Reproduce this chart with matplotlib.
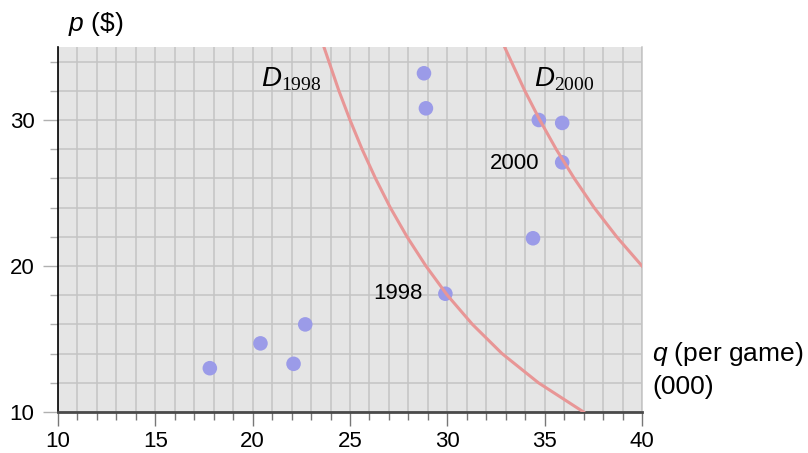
import numpy as np
import matplotlib.pyplot as plt
from matplotlib.ticker import MultipleLocator

plt.rcParams['font.family'] = ['Liberation Sans', 'DejaVu Sans']
plt.rcParams['mathtext.fontset'] = 'custom'
plt.rcParams['mathtext.it'] = 'Liberation Sans:italic'
plt.rcParams['mathtext.rm'] = 'Liberation Serif'

# observed (quantity, price) pairs
q_obs = [17.8, 20.4, 22.1, 22.7, 29.9, 28.8, 28.9, 34.7, 35.9, 35.9, 34.4]
p_obs = [13.0, 14.7, 13.3, 16.0, 18.1, 33.2, 30.8, 30.0, 29.8, 27.1, 21.9]

# demand curves
p_1998 = [35, 32, 30, 28, 26, 24, 22, 20, 18, 16, 14, 12, 10]
q_1998 = [23.66, 24.43, 25.0, 25.62, 26.31, 27.07, 27.93, 28.90, 30.0, 31.29, 32.81, 34.68, 37.0]
p_2000 = [35, 32, 30, 28, 26, 24, 22, 20]
q_2000 = [32.94, 33.98, 34.75, 35.59, 36.52, 37.54, 38.70, 40.0]

fig = plt.figure(figsize=(8.08, 4.53), dpi=100)
ax = fig.add_axes([58/808, 41/453, 584/808, 365/453])
ax.set_facecolor('#e5e5e5')

ax.set_xlim(10, 40)
ax.set_ylim(10, 35)
ax.xaxis.set_major_locator(MultipleLocator(5))
ax.xaxis.set_minor_locator(MultipleLocator(1))
ax.yaxis.set_major_locator(MultipleLocator(10))
ax.yaxis.set_minor_locator(MultipleLocator(2))
ax.grid(which='both', color='#c4c4c4', linewidth=1.1)
ax.set_axisbelow(True)

ax.spines['top'].set_visible(False)
ax.spines['right'].set_color('#c4c4c4')
ax.spines['right'].set_linewidth(1.1)
ax.spines['left'].set_color('black')
ax.spines['left'].set_linewidth(1.2)
ax.spines['bottom'].set_color('#4a4a4a')
ax.spines['bottom'].set_linewidth(2)

ax.tick_params(axis='x', which='major', length=10, width=1, color='#777777', labelsize=16, pad=4)
ax.tick_params(axis='x', which='minor', length=6, width=1, color='#777777')
ax.tick_params(axis='y', which='major', length=11, width=1, color='#b0b0b0', labelsize=16, pad=6)
ax.tick_params(axis='y', which='minor', length=6, width=1, color='#b0b0b0')

ax.scatter(q_obs, p_obs, s=110, color='#9b9be8', edgecolors='none', zorder=3)
ax.plot(q_1998, p_1998, color='#e89696', linewidth=2.2, zorder=4)
ax.plot(q_2000, p_2000, color='#e89696', linewidth=2.2, zorder=4)

ax.text(20.45, 32.3, r'$D_{1998}$', fontsize=20)
ax.text(34.45, 32.3, r'$D_{2000}$', fontsize=20)
ax.text(28.75, 18.1, '1998', fontsize=16, ha='right', va='center')
ax.text(34.75, 27.05, '2000', fontsize=16, ha='right', va='center')

fig.text(68/808, 1 - 24/453, r'$p$ (\$)', fontsize=19, va='center')
fig.text(652/808, 1 - 354/453, r'$q$ (per game)', fontsize=19, va='center')
fig.text(652/808, 1 - 387/453, '(000)', fontsize=19, va='center')

fig.savefig('out.png', dpi=100)
